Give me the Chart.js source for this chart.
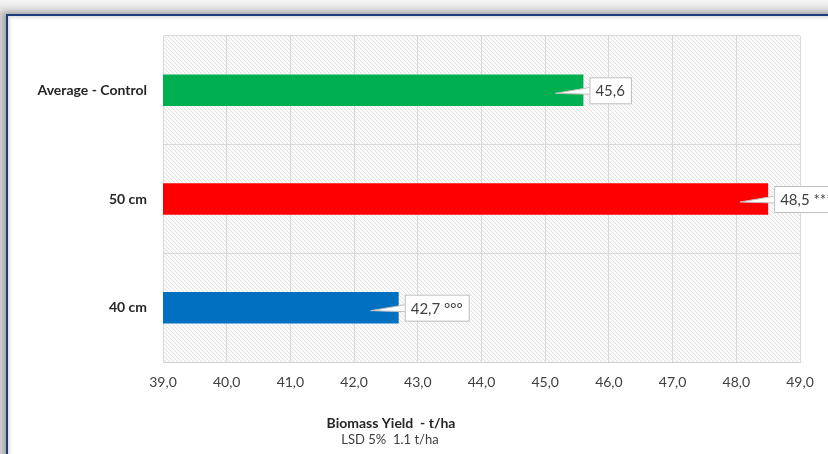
<!DOCTYPE html>
<html>
<head>
<meta charset="utf-8">
<script src="https://cdn.jsdelivr.net/npm/chart.js@4"></script>
<style>
  html, body { margin: 0; padding: 0; }
  body {
    width: 828px; height: 454px; overflow: hidden; position: relative;
    background: linear-gradient(to bottom, #f6f6f6 0px, #d8d8d8 14px);
  }
  .frame {
    position: absolute; left: 6px; top: 14px; width: 900px; height: 520px;
    background: #fff;
    border-left: 2px solid #1d3b7e; border-top: 2px solid #1d3b7e;
    box-shadow: -3px -2px 6px rgba(0,0,0,.25), inset 2px 2px 3px rgba(0,0,0,.12);
  }
  #wrap { position: absolute; left: 0; top: 0; width: 828px; height: 454px; }
</style>
</head>
<body>
<div class="frame"></div>
<div id="wrap"><canvas id="chart" width="828" height="454"></canvas></div>
<script>
// dados
const categorias = ['Average - Control', '50 cm', '40 cm'];
const rendimento = [45.6, 48.5, 42.7];
const rotulos = ['45,6', '48,5 ***', '42,7 °°°'];
const cores = ['#00b050', '#ff0000', '#0070c0'];
const eixoMin = 39, eixoMax = 49;
const tituloEixo = 'Biomass Yield  - t/ha';
const notaLSD = 'LSD 5%  1.1 t/ha';

const fonte = "Lato, 'Open Sans', sans-serif";

// fundo hachurado da área do gráfico
function hatchPattern(ctx) {
  const c = document.createElement('canvas');
  c.width = 4; c.height = 4;
  const p = c.getContext('2d');
  p.fillStyle = '#fbfbfb';
  p.fillRect(0, 0, 4, 4);
  p.strokeStyle = '#e2e2e2';
  p.lineWidth = 1;
  p.beginPath();
  p.moveTo(-1, -1); p.lineTo(5, 5);
  p.moveTo(-1, 3); p.lineTo(1, 5);
  p.moveTo(3, -1); p.lineTo(5, 1);
  p.stroke();
  return ctx.createPattern(c, 'repeat');
}

const fundoPlugin = {
  id: 'fundo',
  beforeDraw(chart) {
    const { ctx, chartArea: a } = chart;
    ctx.save();
    ctx.fillStyle = hatchPattern(ctx);
    ctx.fillRect(a.left, a.top, a.right - a.left, a.bottom - a.top);
    ctx.restore();
  }
};

// rótulos tipo "balão" e título do eixo
const rotuloPlugin = {
  id: 'rotulos',
  afterDatasetsDraw(chart) {
    const { ctx } = chart;
    const meta = chart.getDatasetMeta(0);
    ctx.save();
    ctx.font = '15px ' + fonte;
    meta.data.forEach((bar, i) => {
      const txt = rotulos[i];
      const w = ctx.measureText(txt).width + 12;
      const h = 26;
      const bx = bar.x + 6, by = bar.y - 13;
      // cunha
      ctx.beginPath();
      ctx.moveTo(bar.x - 28, bar.y + 3);
      ctx.lineTo(bx + 1, bar.y - 3);
      ctx.lineTo(bx + 1, bar.y + 4);
      ctx.closePath();
      ctx.fillStyle = '#ffffff';
      ctx.fill();
      ctx.strokeStyle = '#bfbfbf';
      ctx.lineWidth = 1;
      ctx.stroke();
      // caixa
      ctx.fillStyle = '#ffffff';
      ctx.fillRect(bx, by, w, h);
      ctx.strokeRect(bx + 0.5, by + 0.5, w, h);
      ctx.fillStyle = '#404040';
      ctx.textAlign = 'left';
      ctx.textBaseline = 'middle';
      ctx.fillText(txt, bx + 6, bar.y + 1);
    });
    ctx.restore();
  },
  afterDraw(chart) {
    const { ctx } = chart;
    ctx.save();
    ctx.textAlign = 'center';
    ctx.textBaseline = 'middle';
    ctx.fillStyle = '#262626';
    ctx.font = 'bold 14px ' + fonte;
    ctx.fillText(tituloEixo, 391, 423);
    ctx.fillStyle = '#404040';
    ctx.font = '13px ' + fonte;
    ctx.fillText(notaLSD, 390, 440);
    ctx.restore();
  }
};

const ctx = document.getElementById('chart').getContext('2d');
new Chart(ctx, {
  type: 'bar',
  data: {
    labels: categorias,
    datasets: [{
      data: rendimento,
      backgroundColor: cores,
      borderWidth: 0,
      barPercentage: 0.29,
      categoryPercentage: 1
    }]
  },
  options: {
    indexAxis: 'y',
    responsive: false,
    animation: false,
    layout: { padding: { top: 36, right: 28, left: 0, bottom: 0 } },
    plugins: { legend: { display: false }, tooltip: { enabled: false } },
    scales: {
      x: {
        min: eixoMin, max: eixoMax,
        afterFit: (s) => { s.height = 92; },
        ticks: {
          stepSize: 1,
          padding: 12,
          color: '#404040',
          font: { family: fonte, size: 14 },
          callback: (v) => Number(v).toFixed(1).replace('.', ',')
        },
        grid: { color: '#d9d9d9', drawTicks: false },
        border: { color: '#d0d0d0' }
      },
      y: {
        afterFit: (s) => { s.width = 163; },
        ticks: {
          padding: 16,
          color: '#262626',
          font: { family: fonte, size: 14, weight: 'bold' }
        },
        grid: { color: '#d9d9d9', drawTicks: false },
        border: { color: '#d9d9d9' }
      }
    }
  },
  plugins: [fundoPlugin, rotuloPlugin]
});
</script>
</body>
</html>
